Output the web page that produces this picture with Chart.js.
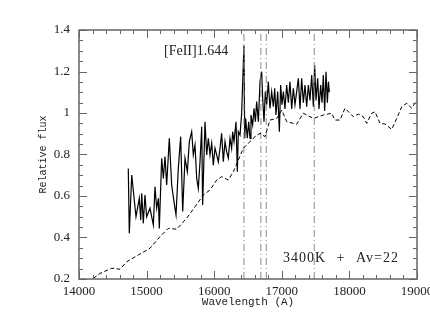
<!DOCTYPE html>
<html>
<head>
<meta charset="utf-8">
<script src="https://cdn.jsdelivr.net/npm/chart.js@4.4.0/dist/chart.umd.min.js"></script>
<style>
  html, body { margin: 0; padding: 0; background: #fff; }
  #wrap { width: 430px; height: 333px; }
</style>
</head>
<body>
<div id="wrap"><canvas id="chart" width="430" height="333"></canvas></div>
<script>
// Observed spectrum (solid)
const obsWave = [14729, 14744, 14780, 14843, 14892, 14913, 14928, 14951, 14976, 15001,
  15050, 15100, 15124, 15149, 15174, 15188, 15223, 15248, 15272, 15297,
  15336, 15371, 15405, 15435, 15469, 15504, 15534, 15568, 15603, 15632,
  15667, 15691, 15716, 15741, 15765, 15790, 15815, 15829, 15864, 15889,
  15913, 15938, 15963, 15987, 16012, 16037, 16061, 16086, 16110, 16135,
  16160, 16184, 16209, 16234, 16258, 16273, 16293, 16323, 16342, 16357,
  16382, 16406, 16440, 16452, 16465, 16490, 16510, 16530, 16544, 16569,
  16589, 16609, 16628, 16653, 16678, 16702, 16717, 16737, 16756, 16776,
  16801, 16825, 16850, 16875, 16895, 16914, 16939, 16964, 16983, 17003,
  17023, 17047, 17072, 17097, 17121, 17146, 17171, 17195, 17220, 17245,
  17269, 17294, 17319, 17343, 17368, 17393, 17417, 17442, 17467, 17486,
  17506, 17531, 17550, 17575, 17595, 17614, 17634, 17654, 17674, 17690, 17703];
const obsFlux = [0.733, 0.420, 0.701, 0.500, 0.589, 0.484, 0.613, 0.468, 0.605, 0.500,
  0.541, 0.460, 0.645, 0.541, 0.589, 0.444, 0.782, 0.685, 0.790, 0.653,
  0.878, 0.653, 0.573, 0.509, 0.733, 0.886, 0.525, 0.782, 0.717, 0.862,
  0.910, 0.798, 0.846, 0.685, 0.637, 0.765, 0.934, 0.557, 0.958, 0.798,
  0.878, 0.798, 0.854, 0.749, 0.830, 0.798, 0.765, 0.830, 0.902, 0.765,
  0.862, 0.814, 0.782, 0.878, 0.830, 0.910, 0.862, 0.958, 0.717, 0.910,
  0.894, 0.998, 1.325, 0.878, 0.974, 0.878, 0.958, 0.878, 0.990, 0.942,
  1.022, 0.958, 1.055, 0.958, 1.151, 1.199, 1.071, 0.958, 1.103, 1.040,
  1.151, 1.022, 1.103, 1.030, 1.119, 0.990, 1.103, 0.910, 1.135, 1.040,
  1.103, 1.020, 1.135, 1.050, 1.151, 1.020, 1.119, 1.040, 1.103, 1.167,
  1.020, 1.167, 1.050, 1.135, 1.030, 1.135, 1.060, 1.183, 1.030, 1.231,
  1.060, 1.167, 1.020, 1.135, 1.050, 1.183, 1.010, 1.199, 1.050, 1.151, 1.100];

// Model 3400K + Av=22 (dashed)
const modelWave = [14212, 14311, 14484, 14607, 14706, 14877, 15050, 15198, 15321, 15445,
  15593, 15716, 15839, 15938, 16037, 16111, 16209, 16283, 16357, 16430,
  16504, 16604, 16678, 16751, 16825, 16925, 16999, 17073, 17220, 17318,
  17466, 17614, 17738, 17787, 17861, 17935, 18058, 18132, 18206, 18256,
  18330, 18379, 18453, 18527, 18626, 18700, 18774, 18848, 18922, 19000];
const modelFlux = [0.203, 0.227, 0.252, 0.247, 0.283, 0.316, 0.348, 0.404, 0.444, 0.440,
  0.493, 0.548, 0.605, 0.629, 0.677, 0.693, 0.677, 0.717, 0.773, 0.830,
  0.854, 0.886, 0.902, 0.886, 0.966, 0.974, 1.014, 0.958, 0.946, 0.999,
  0.974, 0.990, 0.999, 0.966, 0.966, 1.023, 0.982, 0.995, 0.982, 0.950,
  0.999, 1.006, 0.950, 0.947, 0.921, 0.974, 1.030, 1.047, 1.023, 1.063];

// Line markers (dash-dot verticals)
const lineWaves = [16440, 16690, 16770, 17480];

// Axes
const xMin = 14000, xMax = 19000;
const yMin = 0.2, yMax = 1.4;

const toPts = (xs, ys) => xs.map((v, i) => ({ x: v, y: ys[i] }));

const markerSets = lineWaves.map(w => ({
  data: [{ x: w, y: yMin }, { x: w, y: yMax }],
  borderColor: '#888',
  borderWidth: 1,
  borderDash: [7, 3, 1, 3],
  pointRadius: 0,
  showLine: true
}));

// Frame, inward ticks, labels
const framePlugin = {
  id: 'frame',
  afterDraw(chart) {
    const { ctx, chartArea: a, scales: { x, y } } = chart;
    ctx.save();
    ctx.strokeStyle = '#666';
    ctx.lineWidth = 1.5;
    ctx.strokeRect(a.left, a.top, a.right - a.left, a.bottom - a.top);
    ctx.lineWidth = 1;
    ctx.beginPath();
    for (let v = xMin; v <= xMax; v += 200) {
      const px = Math.round(x.getPixelForValue(v)) + 0.5;
      const len = v % 1000 === 0 ? 8 : 4;
      ctx.moveTo(px, a.bottom); ctx.lineTo(px, a.bottom - len);
      ctx.moveTo(px, a.top); ctx.lineTo(px, a.top + len);
    }
    for (let i = 0; i <= 24; i++) {
      const v = yMin + i * 0.05;
      const py = Math.round(y.getPixelForValue(v)) + 0.5;
      const len = i % 4 === 0 ? 8 : 4;
      ctx.moveTo(a.left, py); ctx.lineTo(a.left + len, py);
      ctx.moveTo(a.right, py); ctx.lineTo(a.right - len, py);
    }
    ctx.stroke();

    // axis titles
    ctx.fillStyle = '#222';
    ctx.font = '11px "Liberation Mono"';
    ctx.textAlign = 'center';
    ctx.textBaseline = 'middle';
    ctx.fillText('Wavelength (A)', (a.left + a.right) / 2, 302);
    ctx.save();
    ctx.translate(43, (a.top + a.bottom) / 2);
    ctx.rotate(-Math.PI / 2);
    ctx.font = '10px "Liberation Mono"';
    ctx.fillText('Relative flux', 0, 0);
    ctx.restore();

    // annotations
    ctx.font = '14px "Liberation Serif"';
    ctx.textAlign = 'left';
    ctx.fillText('[FeII]1.644', 164, 51);
    ctx.letterSpacing = '1px';
    ctx.wordSpacing = '6px';
    ctx.fillText('3400K + Av=22', 283, 258);
    ctx.restore();
  }
};

new Chart(document.getElementById('chart'), {
  type: 'scatter',
  data: {
    datasets: [
      {
        data: toPts(modelWave, modelFlux),
        borderColor: '#000',
        borderWidth: 1,
        borderDash: [4, 2.5],
        pointRadius: 0,
        showLine: true
      },
      ...markerSets,
      {
        data: toPts(obsWave, obsFlux),
        borderColor: '#000',
        borderWidth: 1.2,
        pointRadius: 0,
        showLine: true
      }
    ]
  },
  options: {
    responsive: false,
    animation: false,
    layout: { padding: { left: 0, right: 13, top: 30, bottom: 0 } },
    plugins: { legend: { display: false }, tooltip: { enabled: false } },
    scales: {
      x: {
        type: 'linear',
        min: xMin, max: xMax,
        grid: { display: false, drawTicks: false },
        border: { display: false },
        ticks: {
          stepSize: 1000,
          padding: 5,
          color: '#222',
          font: { family: 'Liberation Serif', size: 13 },
          maxRotation: 0,
          callback: v => String(v)
        },
        afterFit: s => { s.height = 54; s.paddingLeft = 0; s.paddingRight = 0; }
      },
      y: {
        min: yMin, max: yMax,
        grid: { display: false, drawTicks: false },
        border: { display: false },
        ticks: {
          stepSize: 0.2,
          padding: 9,
          color: '#222',
          font: { family: 'Liberation Serif', size: 13 },
          callback: v => String(+v.toFixed(2))
        },
        afterFit: s => { s.width = 79; s.paddingTop = 0; s.paddingBottom = 0; }
      }
    }
  },
  plugins: [framePlugin]
});
</script>
</body>
</html>
